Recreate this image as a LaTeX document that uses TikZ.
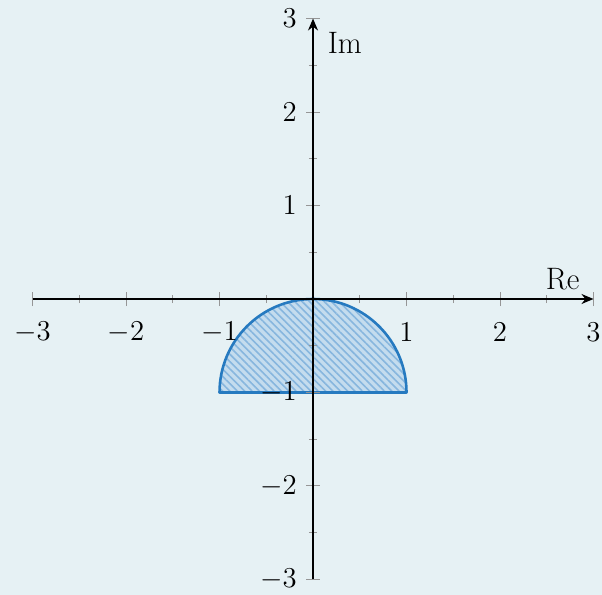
\documentclass[tikz,border=0pt]{standalone}
\usetikzlibrary{patterns.meta,arrows.meta}
\definecolor{bgc}{RGB}{230,241,244}
\definecolor{edgec}{RGB}{38,122,192}
\definecolor{fillc}{RGB}{196,220,238}
\definecolor{hatchc}{RGB}{135,182,222}
\definecolor{tickc}{RGB}{150,150,150}
\tikzset{
  axisline/.style={draw=black, line width=0.75pt, -{Stealth[length=6pt,width=5pt]}},
  majortick/.style={draw=tickc, line width=0.5pt},
  minortick/.style={draw=tickc, line width=0.5pt},
  xlab/.style={anchor=center, inner sep=0pt, font=\fontsize{15.5}{18}\selectfont},
  ylab/.style={anchor=east, inner sep=0pt, font=\fontsize{15.5}{18}\selectfont},
  axlab/.style={font=\fontsize{15.5}{18}\selectfont},
  region/.style={draw=edgec, line width=1.3pt, line join=round},
}
\begin{document}
\begin{tikzpicture}[x=46.75pt,y=46.75pt]
\fill[bgc] (-3.348,-3.166) rectangle (3.091,3.198);
\useasboundingbox (-3.348,-3.166) rectangle (3.091,3.198);
% region
\fill[fillc] (-1,-1) arc[start angle=180,end angle=0,radius=1] -- cycle;
\fill[pattern={Lines[angle=-45,distance=2.6pt,line width=0.8pt]}, pattern color=hatchc] (-1,-1) arc[start angle=180,end angle=0,radius=1] -- cycle;
\draw[region] (-1,-1) arc[start angle=180,end angle=0,radius=1] -- cycle;
% ticks
\foreach \v in {-3,-2,-1,1,2,3} {
  \draw[majortick] (\v,-0.075) -- (\v,0.075);
  \draw[majortick] (-0.075,\v) -- (0.075,\v);
}
\foreach \v in {-2.5,-1.5,-0.5,0.5,1.5,2.5} {
  \draw[minortick] (\v,-0.045) -- (\v,0.045);
  \draw[minortick] (-0.045,\v) -- (0.045,\v);
}
% axes
\coordinate (xs) at (-3,0);
\coordinate (xe) at (3,0);
\coordinate (ys) at (0,-3);
\coordinate (ye) at (0,3);
\draw[axisline] (xs) -- (xe);
\draw[axisline] (ys) -- (ye);
% labels
\foreach \v in {-3,-2,-1,1,2,3} {
  \node[xlab] (xl\v) at (\v,-0.36) {$\v$};
}
\foreach \v in {-3,-2,-1,1,2,3} {
  \node[ylab] (yl\v) at (-0.17,\v) {$\v$};
}
\node[axlab] (re) at (2.67,0.21) {Re};
\node[axlab] (im) at (0.34,2.74) {Im};
\end{tikzpicture}
\end{document}
